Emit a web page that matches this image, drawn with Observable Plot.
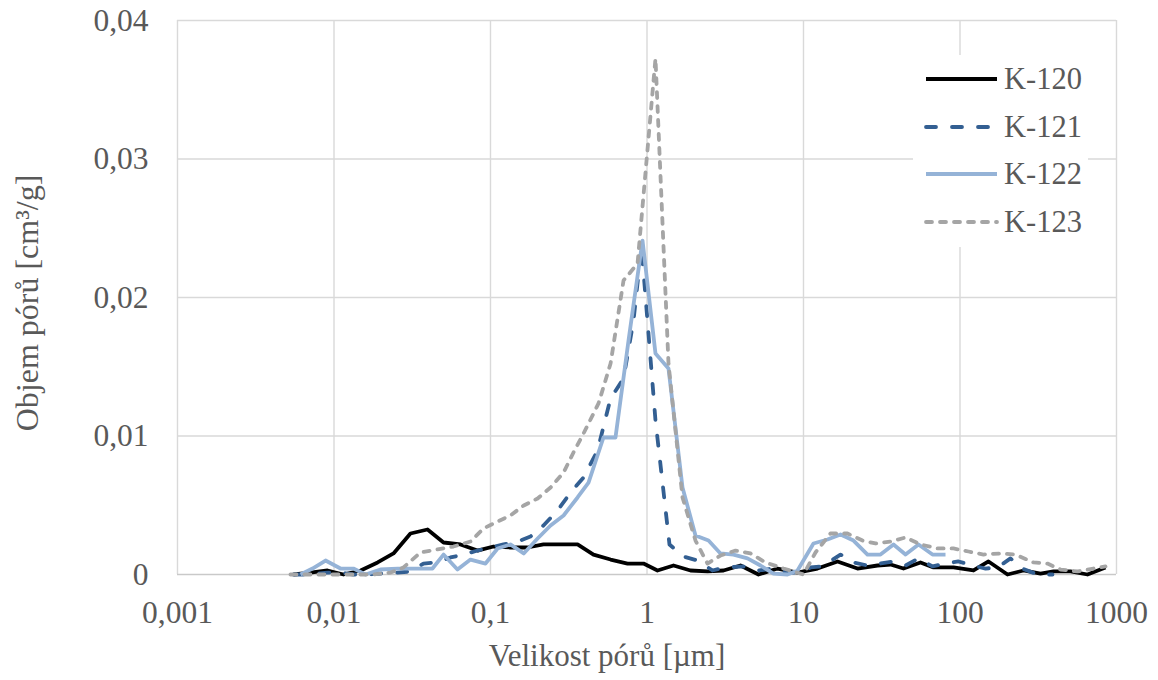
<!DOCTYPE html>
<html><head><meta charset="utf-8">
<script src="https://cdn.jsdelivr.net/npm/d3@7"></script>
<script src="https://cdn.jsdelivr.net/npm/@observablehq/plot@0.6"></script>
<style>
html,body{margin:0;padding:0;background:#fff;}
#chart{position:relative;width:1158px;height:680px;}
#legend{position:absolute;left:913px;top:55px;}
#titles{position:absolute;left:0;top:0;pointer-events:none;}
</style></head><body><div id="chart"></div>
<script>
const seriesNames = ["K-120","K-121","K-122","K-123"];

const k120Size = [0.00551,0.00707,0.00909,0.0115,0.0148,0.0190,0.0240,0.0308,0.0396,0.0501,0.0643,0.0826,0.1045,0.134,0.172,0.218,0.280,0.360,0.455,0.585,0.751,0.950,1.167,1.477,1.897,2.435,3.082,3.957,5.158,6.823,9.156,12.29,16.50,22.13,29.71,35.97,43.55,55.92,67.70,90.88,122.0,152.1,201.2,254.6,326.9,395.7,508.3,652.7,850.8];
const k120Vol = [0,0.00014,0.00029,0,0.00029,0.00087,0.00152,0.00296,0.00325,0.00231,0.00217,0.00173,0.00202,0.00195,0.00195,0.00217,0.00217,0.00217,0.00144,0.00108,0.00079,0.00079,0.00029,0.00065,0.00029,0.00022,0.00029,0.00065,0,0.00043,0.00014,0.00043,0.00094,0.00043,0.00065,0.00072,0.00043,0.00087,0.00051,0.00051,0.00029,0.00094,0,0.00029,0.00007,0.00022,0.00022,0,0.00051];

const k121Size = [0.00551,0.00707,0.00909,0.0110,0.0133,0.0164,0.0198,0.0255,0.0308,0.0373,0.0459,0.0555,0.0672,0.0826,0.100,0.121,0.149,0.180,0.218,0.268,0.325,0.393,0.483,0.585,0.708,0.820,0.922,1.133,1.392,1.711,2.102,2.621,3.174,4.136,5.158,6.338,7.904,9.568,11.08,13.22,17.24,20.87,25.64,31.05,37.59,44.86,54.30,66.73,80.80,97.8,120.2,145.6,173.6,210.2,250.8,312.8,390.0];
const k121Vol = [0,0,0.00014,0.00014,0,0,0.00007,0.00014,0.00022,0.00079,0.00087,0.00123,0.00144,0.00173,0.00195,0.00217,0.00238,0.00274,0.00354,0.00462,0.00592,0.00700,0.00895,0.01271,0.01415,0.01834,0.02368,0.01112,0.00217,0.00130,0.00101,0.00029,0.00051,0.00058,0.00029,0.00043,0.00014,0.00014,0.00051,0.00058,0.00144,0.00087,0.00065,0.00079,0.00094,0.00065,0.00116,0.00058,0.00079,0.00094,0.00065,0.00043,0.00051,0.00116,0.00043,0,0];

const k122Size = [0.00611,0.00729,0.00883,0.0110,0.0133,0.0159,0.0198,0.0255,0.0322,0.0426,0.0501,0.0615,0.0745,0.0929,0.111,0.134,0.163,0.200,0.242,0.293,0.360,0.423,0.527,0.629,0.762,0.936,1.133,1.372,1.686,2.041,2.472,2.949,3.571,4.386,5.313,6.432,7.904,9.156,11.58,14.24,17.24,20.87,25.64,31.05,37.59,44.86,54.30,66.73,80.80];
const k122Vol = [0,0.00043,0.00101,0.00043,0.00043,0,0.00036,0.00043,0.00043,0.00043,0.00144,0.00036,0.00108,0.00079,0.00188,0.00217,0.00152,0.00260,0.00354,0.00426,0.00556,0.00664,0.00989,0.00989,0.01690,0.02411,0.01596,0.01487,0.00628,0.00282,0.00245,0.00152,0.00144,0.00116,0.00065,0.00007,0,0.00029,0.00224,0.00253,0.00289,0.00245,0.00144,0.00144,0.00217,0.00144,0.00217,0.00144,0.00144];

const k123Size = [0.00527,0.00677,0.00857,0.0110,0.0141,0.0179,0.0230,0.0278,0.0357,0.0459,0.0580,0.0745,0.0902,0.111,0.134,0.163,0.200,0.242,0.293,0.339,0.393,0.490,0.585,0.708,0.870,1.133,1.372,1.686,2.041,2.435,2.949,3.678,4.585,5.717,7.450,10.00,11.93,14.88,19.10,23.83,28.85,35.97,44.86,55.92,71.80,90.88,113.3,141.3,181.5,226.2,294.9,362.4,438.7,563.4,712.9,850.8];
const k123Vol = [0,0,0,0,0,0,0.00014,0.00051,0.00159,0.00181,0.00202,0.00238,0.00332,0.00383,0.00426,0.00498,0.00549,0.00628,0.00736,0.00881,0.01018,0.01235,0.01523,0.02123,0.02245,0.03726,0.01523,0.00556,0.00245,0.00079,0.00137,0.00173,0.00152,0.00087,0.00043,0,0.00159,0.00296,0.00296,0.00245,0.00224,0.00238,0.00267,0.00217,0.00188,0.00188,0.00166,0.00144,0.00152,0.00144,0.00087,0.00079,0.00036,0.00022,0.00043,0.00058];

const xTicks = [0.001,0.01,0.1,1,10,100,1000];
const yTicks = [0,0.01,0.02,0.03,0.04];
const xTitle = "Velikost pórů [µm]";
const yTitle = "Objem pórů [cm³/g]";

const seriesStyle = {
  "K-120": {stroke:"#000000", dash:null},
  "K-121": {stroke:"#335f92", dash:"10,16"},
  "K-122": {stroke:"#95b3d7", dash:null},
  "K-123": {stroke:"#a5a5a5", dash:"6,8"}
};

const sizes = [k120Size,k121Size,k122Size,k123Size];
const vols = [k120Vol,k121Vol,k122Vol,k123Vol];
const rows = [];
seriesNames.forEach((s,i)=>{ sizes[i].forEach((x,j)=>rows.push({series:s, size:x, vol:vols[i][j]})); });

const fmtX = d => String(d).replace(".", ",");
const fmtY = d => d === 0 ? "0" : d.toFixed(2).replace(".", ",");
const FONT = "'Liberation Serif','Times New Roman',serif";

const lineMarks = seriesNames.map(s => Plot.line(rows.filter(r=>r.series===s), {
  x:"size", y:"vol", stroke: seriesStyle[s].stroke, strokeWidth:3.8,
  strokeDasharray: seriesStyle[s].dash || undefined,
  strokeLinecap: seriesStyle[s].dash ? "round" : "butt", strokeLinejoin:"round", curve:"linear"
}));

const chart = Plot.plot({
  width:1158, height:680,
  marginLeft:177, marginRight:42, marginTop:20, marginBottom:106,
  style:{fontFamily:FONT, fontSize:"31.5px", color:"#595959", background:"#fff", overflow:"visible"},
  x:{type:"log", domain:[0.001,1000]},
  y:{domain:[0,0.04]},
  marks:[
    Plot.gridX(xTicks, {stroke:"#d9d9d9", strokeOpacity:1, strokeWidth:1.4}),
    Plot.gridY(yTicks.slice(1), {stroke:"#d9d9d9", strokeOpacity:1, strokeWidth:1.4}),
    Plot.ruleY([0], {stroke:"#c9c9c9", strokeWidth:1.6}),
    Plot.axisX({ticks:xTicks, tickFormat:fmtX, tickSize:0, tickPadding:26, label:null}),
    Plot.axisY({ticks:yTicks, tickFormat:fmtY, tickSize:0, tickPadding:29, label:null}),
    ...lineMarks
  ]
});
document.getElementById("chart").appendChild(chart);

// axis titles
const tt = d3.select("#chart").append("svg").attr("id","titles").attr("width",1158).attr("height",680);
tt.append("text").attr("x",607).attr("y",666).attr("text-anchor","middle")
  .attr("font-family",FONT).attr("font-size","31px").attr("fill","#595959").text(xTitle);
tt.append("text").attr("transform","translate(38,303) rotate(-90)").attr("text-anchor","middle")
  .attr("font-family",FONT).attr("font-size","32px").attr("fill","#595959").text(yTitle);

// legend
const lg = d3.select("#chart").append("svg").attr("id","legend").attr("width",175).attr("height",192);
lg.append("rect").attr("width",175).attr("height",192).attr("fill","#fff");
const itemY = [24,72,119,167];
seriesNames.forEach((s,i)=>{
  const st = seriesStyle[s];
  lg.append("line").attr("x1",13).attr("x2",84).attr("y1",itemY[i]).attr("y2",itemY[i])
    .attr("stroke",st.stroke).attr("stroke-width",3.8)
    .attr("stroke-dasharray", st.dash)
    .attr("stroke-linecap", st.dash ? "round" : "butt");
  lg.append("text").attr("x",91).attr("y",itemY[i]+10).text(s)
    .attr("font-family",FONT).attr("font-size","30.5px").attr("fill","#595959");
});
</script></body></html>
